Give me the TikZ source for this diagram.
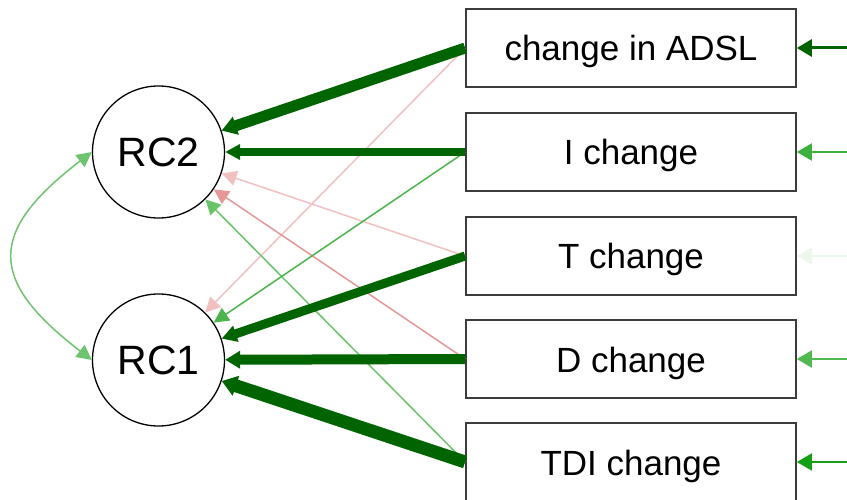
\documentclass[tikz,border=0pt]{standalone}
\usepackage{fontspec}
\setmainfont{Liberation Sans}
\usetikzlibrary{arrows.meta}

% edge colours
\definecolor{posdark}{RGB}{0,100,0}
\definecolor{posmid}{RGB}{75,180,75}
\definecolor{poslight}{RGB}{105,195,105}
\definecolor{poscurve}{RGB}{110,195,110}
\definecolor{negfaint}{RGB}{241,192,192}
\definecolor{negmid}{RGB}{229,150,150}
\definecolor{resI}{RGB}{60,175,60}
\definecolor{resT}{RGB}{236,248,236}
\definecolor{resD}{RGB}{80,185,80}
\definecolor{resTDI}{RGB}{20,160,20}
\definecolor{boxline}{RGB}{60,60,60}

\tikzset{
  latent/.style={circle, draw=black, line width=1.3pt, minimum size=132pt,
    inner sep=0pt, font=\fontsize{41}{46}\selectfont},
  manifest/.style={rectangle, draw=boxline, line width=1.7pt,
    minimum width=330pt, minimum height=78pt, inner sep=0pt,
    text height=30pt, text depth=4pt,
    font=\fontsize{35}{40}\selectfont},
  weak/.style={-{Triangle[length=15pt,width=15pt]}, line width=1.5pt},
  strong/.style={-{Triangle[length=15pt,width=#1+7pt]}, line width=#1},
  residual/.style={-{Triangle[length=15pt,width=17pt]}, line width=#1},
}

\begin{document}
\begin{tikzpicture}[x=1pt, y=-1pt]
  \useasboundingbox (0,0) rectangle (847,500);
  \clip (0,0) rectangle (847,500);

  % factors
  \node[latent] (rc2) at (158.5,152) {RC2};
  \node[latent] (rc1) at (158.5,360) {RC1};

  % indicators
  \node[manifest] (adsl) at (631,48)  {change in ADSL};
  \node[manifest] (ich)  at (631,152) {I change};
  \node[manifest] (tch)  at (631,256) {T change};
  \node[manifest] (dch)  at (631,359) {D change};
  \node[manifest] (tdi)  at (631,462) {TDI change};

  % weak loadings first
  \draw[weak, negfaint]  (adsl.west) -- (rc1);
  \draw[weak, negfaint]  (tch.west)  -- (rc2);
  \draw[weak, negmid]    (dch.west)  -- (rc2);
  \draw[weak, poslight]  (tdi.west)  -- (rc2);
  \draw[weak, posmid]    (ich.west)  -- (rc1);

  % strong loadings
  \draw[strong=11pt, posdark] (adsl.west) -- (rc2);
  \draw[strong=8pt,  posdark] (ich.west)  -- (rc2);
  \draw[strong=9pt,  posdark] (tch.west)  -- (rc1);
  \draw[strong=10pt, posdark] (dch.west)  -- (rc1);
  \draw[strong=13pt, posdark] (tdi.west)  -- (rc1);

  % factor covariance
  \draw[{Triangle[length=15pt,width=15pt]}-{Triangle[length=15pt,width=15pt]},
        line width=1.5pt, poscurve]
    (rc2.west) .. controls (-12.5,232) and (-12.5,280) .. (rc1.west);

  % residual arrows entering from the right
  \coordinate (e1) at (852,48);
  \coordinate (e2) at (852,152);
  \coordinate (e3) at (852,256);
  \coordinate (e4) at (852,359);
  \coordinate (e5) at (852,462);
  \draw[residual=3pt,   posdark] (e1) -- (adsl.east);
  \draw[residual=2pt,   resI]    (e2) -- (ich.east);
  \draw[residual=1.5pt, resT]    (e3) -- (tch.east);
  \draw[residual=2pt,   resD]    (e4) -- (dch.east);
  \draw[residual=2pt,   resTDI]  (e5) -- (tdi.east);
\end{tikzpicture}
\end{document}
